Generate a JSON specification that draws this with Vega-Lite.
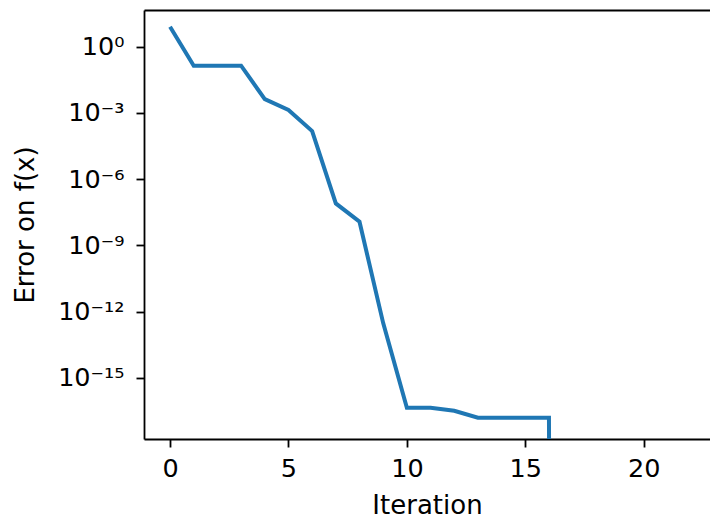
{
  "$schema": "https://vega.github.io/schema/vega-lite/v6.json",
  "width": 566,
  "height": 429,
  "autosize": {"type": "none"},
  "padding": {"left": 144, "top": 10, "right": 0, "bottom": 80},
  "background": "white",
  "config": {
    "view": {"stroke": null},
    "font": "DejaVu Sans",
    "axis": {
      "grid": false,
      "labelFont": "DejaVu Sans",
      "titleFont": "DejaVu Sans",
      "labelFontSize": 25.5,
      "titleFontSize": 26,
      "titleFontWeight": "normal",
      "labelColor": "#000000",
      "titleColor": "#000000",
      "domainColor": "#000000",
      "tickColor": "#000000",
      "domainWidth": 1.8,
      "tickWidth": 1.8,
      "tickSize": 8
    }
  },
  "data": {
    "values": [
      {"iteration": 0, "error": 8.0},
      {"iteration": 1, "error": 0.138},
      {"iteration": 2, "error": 0.138},
      {"iteration": 3, "error": 0.138},
      {"iteration": 4, "error": 0.0042},
      {"iteration": 5, "error": 0.00135},
      {"iteration": 6, "error": 0.000151},
      {"iteration": 7, "error": 7.9e-8},
      {"iteration": 8, "error": 1.17e-8},
      {"iteration": 9, "error": 3e-13},
      {"iteration": 10, "error": 4.4e-17},
      {"iteration": 11, "error": 4.4e-17},
      {"iteration": 12, "error": 3.2e-17},
      {"iteration": 13, "error": 1.55e-17},
      {"iteration": 14, "error": 1.55e-17},
      {"iteration": 15, "error": 1.55e-17},
      {"iteration": 16, "error": 1.55e-17},
      {"iteration": 17, "error": 1e-300},
      {"iteration": 18, "error": 1e-300},
      {"iteration": 19, "error": 1e-300},
      {"iteration": 20, "error": 1e-300},
      {"iteration": 21, "error": 1e-300},
      {"iteration": 22, "error": 1e-300}
    ]
  },
  "layer": [
    {
      "mark": {"type": "line", "color": "#1f77b4", "strokeWidth": 4, "clip": true},
      "encoding": {
        "x": {
          "field": "iteration",
          "type": "quantitative",
          "scale": {"domain": [-1.1, 22.8], "nice": false, "zero": false},
          "axis": {
            "values": [0, 5, 10, 15, 20],
            "title": "Iteration",
            "labelPadding": 9,
            "titlePadding": 11,
            "labelFlush": false
          }
        },
        "y": {
          "field": "error",
          "type": "quantitative",
          "scale": {"type": "log", "domain": [1.679e-18, 46.03], "nice": false},
          "axis": {
            "values": [1, 0.001, 1e-6, 1e-9, 1e-12, 1e-15],
            "labelExpr": "datum.value > 0.5 ? '10⁰' : datum.value > 5e-4 ? '10⁻³' : datum.value > 5e-7 ? '10⁻⁶' : datum.value > 5e-10 ? '10⁻⁹' : datum.value > 5e-13 ? '10⁻¹²' : '10⁻¹⁵'",
            "title": "Error on f(x)",
            "labelPadding": 12,
            "titleX": -119,
            "titleBaseline": "middle",
            "labelFlush": false
          }
        }
      }
    },
    {
      "mark": {"type": "point", "opacity": 0},
      "encoding": {
        "x": {
          "field": "iteration",
          "type": "quantitative",
          "axis": {"orient": "top", "labels": false, "ticks": false, "title": null, "domain": true}
        }
      }
    }
  ],
  "resolve": {"axis": {"x": "independent"}}
}
